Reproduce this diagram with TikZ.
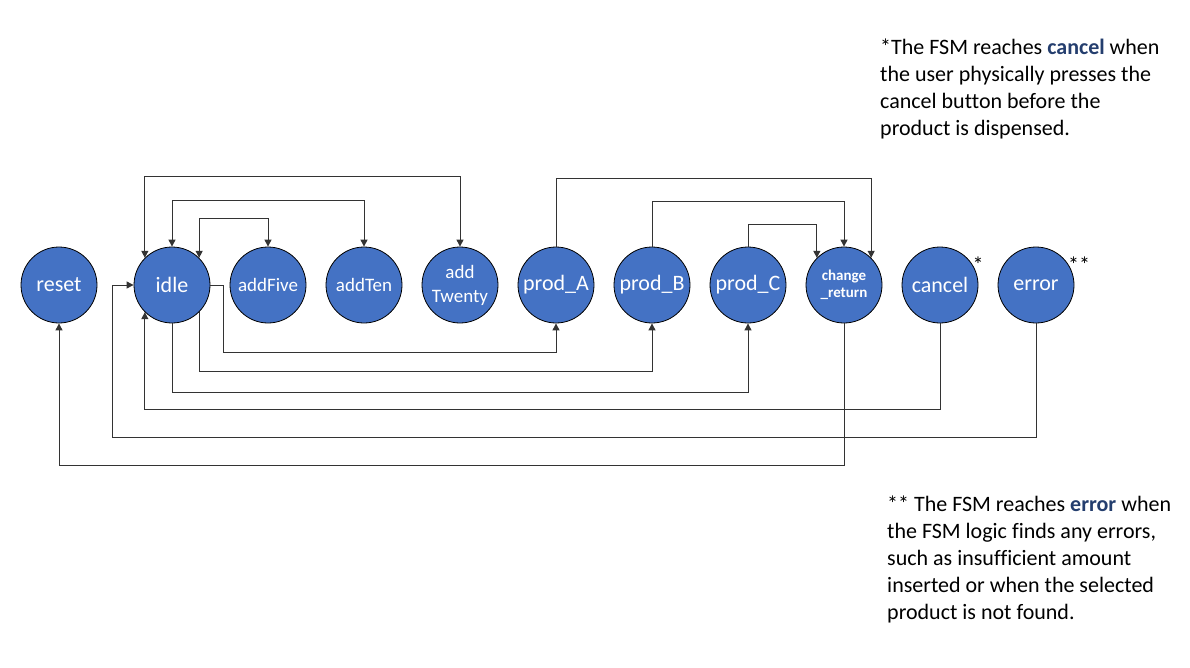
\documentclass[tikz,border=0pt]{standalone}
\usepackage{fontspec}
\setmainfont[Ligatures=NoCommon]{Carlito}
\usepackage{xcolor}
\usetikzlibrary{arrows.meta,positioning,calc}
\definecolor{stateblue}{RGB}{68,114,196}
\definecolor{notenavy}{RGB}{36,62,110}
\tikzset{
  state/.style={circle, draw=black, line width=0.8pt, fill=stateblue, minimum size=76pt, inner sep=0pt, text=white, font=\fontsize{22}{26}\selectfont},
  smallstate/.style={state, align=center, font=\fontsize{19}{24}\selectfont},
  tinystate/.style={state, align=center, font=\fontsize{15}{17}\selectfont\bfseries},
  link/.style={draw=black!80, line width=1pt},
  note/.style={anchor=base west, inner sep=0pt, font=\fontsize{22}{27}\selectfont}
}

\begin{document}
\begin{tikzpicture}[x=1pt, y=-1pt, >={Triangle[length=7pt,width=7pt]}]
    \useasboundingbox (0,0) rectangle (1190,667);
    % states
    \node[state] (reset) at (59,285) {reset};
    \node[state] (idle) at (172,285) {idle};
    \node[smallstate] (addFive) at (268,285) {addFive};
    \node[smallstate] (addTen) at (364,285) {addTen};
    \node[smallstate] (addTwenty) at (460,285) {add\\Twenty};
    \node[state] (prodA) at (556,285) {prod\_A};
    \node[state] (prodB) at (652,285) {prod\_B};
    \node[state] (prodC) at (748,285) {prod\_C};
    \node[tinystate] (change) at (844,285) {change\\\_return};
    \node[state] (cancel) at (940,285) {cancel};
    \node[state] (error) at (1036,285) {error};
    \node[anchor=base, font=\fontsize{22}{26}\selectfont] (starA) at (978,272) {*};
    \node[anchor=base, font=\fontsize{22}{26}\selectfont] (starB) at (1079,272) {**};
    % levels of the connectors
    \coordinate (hiTwenty) at (0,176);
    \coordinate (hiTen) at (0,200);
    \coordinate (hiFive) at (0,218);
    \coordinate (hiA) at (0,178);
    \coordinate (hiB) at (0,201);
    \coordinate (hiC) at (0,224);
    \coordinate (loA) at (0,352);
    \coordinate (loB) at (0,371);
    \coordinate (loC) at (0,392);
    \coordinate (loCancel) at (0,409);
    \coordinate (loError) at (0,437);
    \coordinate (loReset) at (0,465);
    \coordinate (aX) at (223,0);
    \coordinate (errX) at (112,0);
    % idle <-> coin states
    \draw[link,<->] (idle.135) -- (idle.135 |- hiTwenty) -| (addTwenty.north);
    \draw[link,<->] (idle.north) -- (idle.north |- hiTen) -| (addTen.north);
    \draw[link,<->] (idle.45) -- (idle.45 |- hiFive) -| (addFive.north);
    % products -> change_return
    \draw[link,->] (prodA.north) -- (prodA.north |- hiA) -| (change.45);
    \draw[link,->] (prodB.north) -- (prodB.north |- hiB) -| (change.north);
    \draw[link,->] (prodC.north) -- (prodC.north |- hiC) -| (change.135);
    % idle -> products
    \draw[link,->] (idle.east) -- (aX |- idle.east) -- (aX |- loA) -| (prodA.south);
    \draw[link,->] (idle.-45) -- (idle.-45 |- loB) -| (prodB.south);
    \draw[link,->] (idle.south) -- (idle.south |- loC) -| (prodC.south);
    % back to idle and reset
    \draw[link,->] (cancel.south) -- (cancel.south |- loCancel) -| (idle.-135);
    \draw[link,->] (error.south) -- (error.south |- loError) -| (errX |- idle.west) -- (idle.west);
    \draw[link,->] (change.south) -- (change.south |- loReset) -| (reset.south);
    % notes
    \foreach \txt [count=\i] in {{*The FSM reaches {\bfseries\color{notenavy}cancel} when},
        {the user physically presses the}, {cancel button before the}, {product is dispensed.}}
        \node[note] (noteA-\i) at (880,27+27*\i) {\txt};
    \foreach \txt [count=\i] in {{** The FSM reaches {\bfseries\color{notenavy}error} when},
        {the FSM logic finds any errors,}, {such as insufficient amount},
        {inserted or when the selected}, {product is not found.}}
        \node[note] (noteB-\i) at (887,484+27*\i) {\txt};
\end{tikzpicture}
\end{document}
